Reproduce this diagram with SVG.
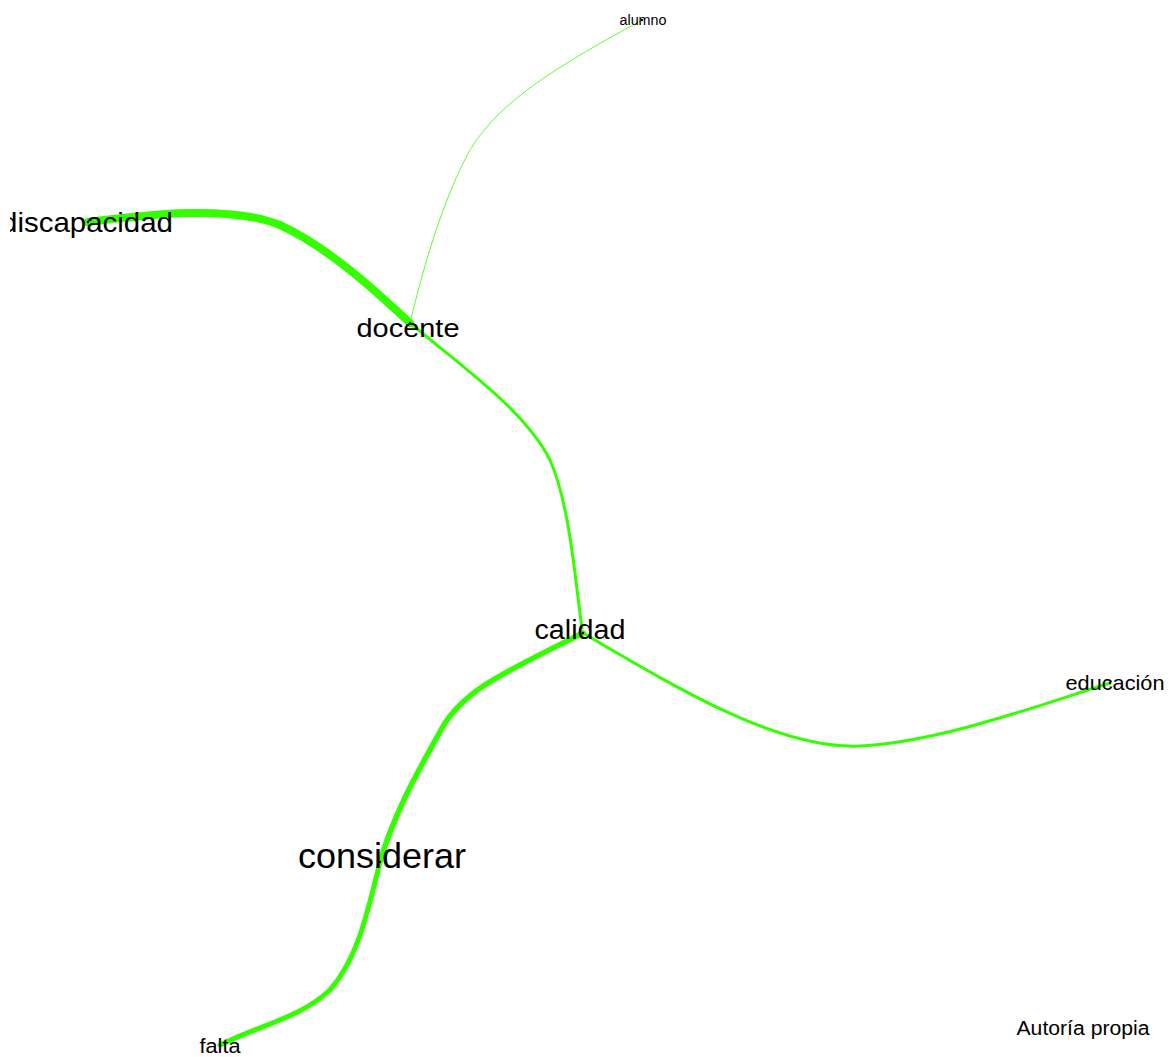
<svg xmlns="http://www.w3.org/2000/svg" width="1169" height="1057" viewBox="0 0 1169 1057">
<style>
.e{fill:none;stroke:#33ff00;stroke-linecap:round}
.t{font-family:"Liberation Sans",Arial,sans-serif;fill:#000;text-anchor:middle}
.dot{fill:#000}
</style>
<defs>
<clipPath id="clipL"><rect x="10" y="0" width="1159" height="1057"/></clipPath>
</defs>
<rect width="1169" height="1057" fill="#fff"/>
<g id="connectors">
<path class="e" d="M642,20 C560,65 500,100 470,150 C445,195 425,260 410,323" stroke="#66ff55" stroke-opacity="0.8" stroke-width="1"/>
<path class="e" d="M88,222 C150,214 230,205 280,225 C330,248 380,295 410,323" stroke-width="8"/>
<path class="e" d="M410,323 C460,365 525,410 550,460 C570,505 575,580 582,628" stroke-width="3"/>
<path class="e" d="M583,633 C680,690 780,750 860,746 C940,742 1040,705 1110,683" stroke-width="3"/>
<path class="e" d="M583,633 C510,670 465,688 442,728 C420,768 395,810 380,862" stroke-width="5.5"/>
<path class="e" d="M380,862 C366,920 356,960 330,990 C300,1018 260,1025 220,1045" stroke-width="5"/>
</g>
<g id="node-alumno"><circle class="dot" cx="642" cy="20" r="1.2"/><text class="t" x="643" y="25" font-size="14" textLength="47" lengthAdjust="spacingAndGlyphs">alumno</text></g>
<g id="node-discapacidad" clip-path="url(#clipL)"><circle class="dot" cx="88" cy="222" r="1.2"/><text class="t" x="87" y="232" font-size="28" textLength="172" lengthAdjust="spacingAndGlyphs">discapacidad</text></g>
<g id="node-docente"><circle class="dot" cx="410" cy="323" r="1.2"/><text class="t" x="408" y="337" font-size="26" textLength="103" lengthAdjust="spacingAndGlyphs">docente</text></g>
<g id="node-calidad"><circle class="dot" cx="583" cy="633" r="1.2"/><text class="t" x="580" y="639" font-size="27" textLength="91" lengthAdjust="spacingAndGlyphs">calidad</text></g>
<g id="node-educacion"><circle class="dot" cx="1110" cy="683" r="1.2"/><text class="t" x="1115" y="690" font-size="21" textLength="99" lengthAdjust="spacingAndGlyphs">educación</text></g>
<g id="node-considerar"><circle class="dot" cx="380" cy="862" r="1.2"/><text class="t" x="382" y="868" font-size="35" textLength="168" lengthAdjust="spacingAndGlyphs">considerar</text></g>
<g id="node-falta"><circle class="dot" cx="220" cy="1045" r="1.2"/><text class="t" x="220" y="1053" font-size="20" textLength="41" lengthAdjust="spacingAndGlyphs">falta</text></g>
<g id="caption"><text class="t" x="1083" y="1035" font-size="20" textLength="133" lengthAdjust="spacingAndGlyphs">Autoría propia</text></g>
</svg>
